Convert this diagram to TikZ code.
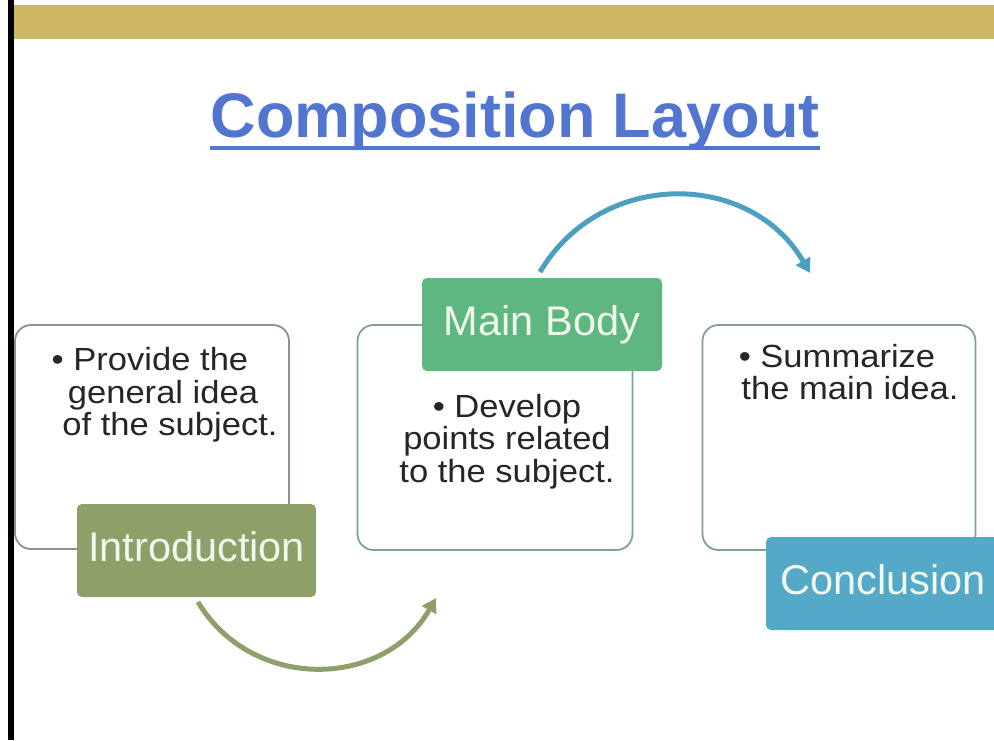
\documentclass[tikz,border=0pt]{standalone}
\usepackage{fontspec}
\setmainfont{Liberation Sans}
\newfontfamily\bodyfont{Liberation Sans}[FakeStretch=1.08]
\usetikzlibrary{arrows.meta}
\definecolor{gold}{HTML}{CCB862}
\definecolor{titleblue}{HTML}{5276D0}
\definecolor{olive}{HTML}{8E9F69}
\definecolor{mgreen}{HTML}{5DB77F}
\definecolor{cblue}{HTML}{55A9C8}
\definecolor{arrblue}{HTML}{4BA0C2}
\definecolor{bordA}{HTML}{8A948C}
\definecolor{bordB}{HTML}{7FA392}
\definecolor{bordC}{HTML}{7E9DA8}
\definecolor{labtext}{HTML}{F1F8EC}
\begin{document}
\begin{tikzpicture}[x=1pt,y=-1pt,
  textbox/.style={draw=#1, line width=1.8pt, rounded corners=16pt, fill=white, inner sep=0pt},
  tagbox/.style={fill=#1, rounded corners=5pt, text=labtext, font=\fontsize{41.5}{44}\selectfont, text height=30pt, text depth=8pt, inner sep=0pt},
  bodytext/.style={align=center, font=\bodyfont\fontsize{32}{32.5}\selectfont, inner sep=0pt, text=black!85},
  flowarrow/.style={line width=5pt, draw=#1, -{Triangle[length=14pt,width=16pt]}}]
\useasboundingbox (0,0) rectangle (994,740);
\clip (0,0) rectangle (994,740);
\fill[white] (0,0) rectangle (994,740);
% top band and left bar
\fill[gold] (14,5) rectangle (994,39);
\fill[black] (8,0) rectangle (14,740);
% title
\node[font=\fontsize{63}{70}\selectfont\bfseries, text=titleblue, anchor=base, inner sep=0pt] (title) at (515,137) {Composition Layout};
\draw[titleblue, line width=4pt] ([yshift=-11pt]title.base west) -- ([yshift=-11pt]title.base east);
% text boxes
\node[textbox=bordA, minimum width=274pt, minimum height=224pt] (boxA) at (152,437) {};
\node[textbox=bordB, minimum width=275pt, minimum height=225pt] (boxB) at (495,437.5) {};
\node[textbox=bordC, minimum width=273pt, minimum height=225pt] (boxC) at (839,437.5) {};
% body texts
\node[bodytext] (txtA) at (170,395) {\hspace*{-40pt}\textbullet\ Provide the\\\hspace*{-14pt}general idea\\of the subject.};
\node[bodytext] (txtB) at (507,441.5) {\textbullet\ Develop\\points related\\to the subject.};
\node[bodytext] (txtC) at (850,372) {\hspace*{-26pt}\textbullet\ Summarize\\the main idea.};
% arrows
\coordinate (a1s) at (198,602);
\coordinate (a1e) at (436,598);
\coordinate (a2s) at (540,272);
\coordinate (a2e) at (810,273);
\draw[flowarrow=olive] (a1s) .. controls (252,692) and (384,689) .. (a1e);
\draw[flowarrow=arrblue] (a2s) .. controls (601,169) and (750,170) .. (a2e);
% labels
\node[tagbox=olive, minimum width=239pt, minimum height=93pt] (intro) at (196.5,550.5) {Introduction};
\node[tagbox=mgreen, minimum width=240pt, minimum height=93pt] (mainbody) at (542,324.5) {Main Body};
\node[tagbox=cblue, minimum width=234pt, minimum height=93pt] (concl) at (883,583.5) {Conclusion};
\end{tikzpicture}
\end{document}
